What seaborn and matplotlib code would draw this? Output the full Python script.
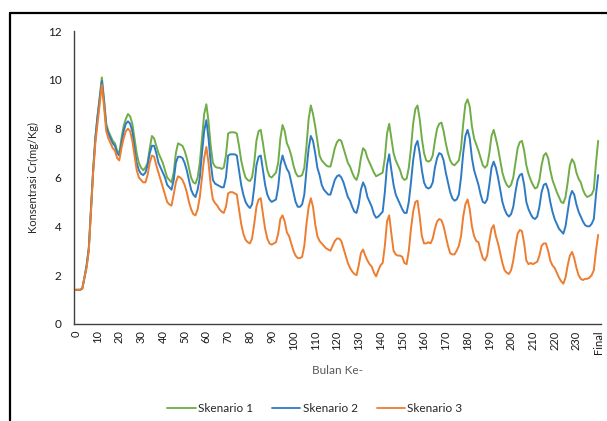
import matplotlib
matplotlib.use("Agg")
import matplotlib.pyplot as plt
from matplotlib.lines import Line2D
import seaborn as sns
import pandas as pd
import numpy as np

# Monthly Cr concentration (mg/Kg), months 0..239 followed by the final value
skenario_1 = [
    1.4, 1.4, 1.4, 1.45, 1.9, 2.4, 3.1, 4.7, 6.3, 7.6, 8.5, 9.3, 10.1,
    9.2, 8.2, 7.9, 7.7, 7.5, 7.4, 7.1, 7.0, 7.6, 8.1, 8.4, 8.6,
    8.5, 8.2, 7.6, 7.0, 6.6, 6.4, 6.3, 6.4, 6.6, 7.2, 7.7, 7.6,
    7.3, 7.0, 6.8, 6.6, 6.3, 6.0, 5.9, 5.8, 6.2, 7.0, 7.4, 7.35,
    7.3, 7.1, 6.8, 6.4, 6.0, 5.8, 5.75, 6.0, 6.6, 7.6, 8.6, 9.0,
    8.3, 7.3, 6.6, 6.45, 6.4, 6.4, 6.35, 6.4, 6.9, 7.8, 7.85, 7.85,
    7.85, 7.8, 7.3, 6.7, 6.3, 6.0, 5.9, 5.85, 6.0, 6.6, 7.5, 7.9,
    7.95, 7.4, 6.8, 6.3, 6.05, 6.0, 6.1, 6.2, 6.6, 7.6, 8.15, 7.9,
    7.4, 7.2, 6.9, 6.5, 6.2, 6.05, 6.05, 6.1, 6.4, 7.3, 8.4, 8.95,
    8.6, 8.1, 7.5, 6.9, 6.7, 6.6, 6.5, 6.45, 6.45, 6.8, 7.2, 7.45,
    7.55, 7.5, 7.2, 6.9, 6.6, 6.45, 6.2, 6.0, 5.9, 6.2, 6.8, 7.2,
    7.1, 6.8, 6.6, 6.4, 6.2, 6.05, 6.1, 6.15, 6.2, 6.8, 7.8, 8.2,
    7.6, 7.0, 6.7, 6.5, 6.3, 6.0, 5.9, 5.95, 6.4, 7.2, 8.2, 8.8,
    8.95, 8.4, 7.6, 7.0, 6.7, 6.65, 6.7, 6.9, 7.5, 8.0, 8.2, 8.25,
    7.9, 7.4, 7.0, 6.7, 6.55, 6.5, 6.6, 6.7, 7.2, 8.2, 9.0, 9.2,
    8.9, 8.1, 7.6, 7.35, 7.1, 6.8, 6.5, 6.4, 6.5, 7.0, 7.7, 7.95,
    7.6, 7.2, 6.7, 6.2, 5.9, 5.7, 5.6, 5.7, 6.0, 6.6, 7.2, 7.45,
    7.5, 7.1, 6.5, 6.15, 5.9, 5.7, 5.55, 5.6, 5.9, 6.5, 6.9, 7.0,
    6.8, 6.3, 5.9, 5.65, 5.4, 5.2, 5.0, 4.95, 5.2, 5.8, 6.5, 6.75,
    6.6, 6.2, 5.95, 5.8, 5.5, 5.3, 5.2, 5.25, 5.3, 5.5, 6.6, 7.5,
]

skenario_2 = [
    1.4, 1.4, 1.4, 1.45, 1.9, 2.4, 3.1, 4.7, 6.3, 7.6, 8.5, 9.2, 9.95,
    9.1, 8.1, 7.8, 7.6, 7.4, 7.3, 7.0, 6.9, 7.4, 7.9, 8.2, 8.3,
    8.2, 7.9, 7.2, 6.6, 6.3, 6.15, 6.1, 6.2, 6.5, 7.0, 7.3, 7.3,
    7.0, 6.6, 6.4, 6.2, 6.0, 5.7, 5.6, 5.5, 5.9, 6.6, 6.85, 6.85,
    6.8, 6.6, 6.3, 5.9, 5.5, 5.3, 5.2, 5.5, 6.0, 7.0, 7.9, 8.35,
    7.6, 6.6, 5.9, 5.75, 5.7, 5.65, 5.6, 5.6, 6.0, 6.9, 6.95, 6.95,
    6.95, 6.9, 6.3, 5.7, 5.3, 5.0, 4.85, 4.75, 4.9, 5.6, 6.5, 6.85,
    6.9, 6.3, 5.7, 5.3, 5.1, 5.0, 5.05, 5.1, 5.6, 6.5, 6.9, 6.6,
    6.35, 6.2, 5.8, 5.4, 5.0, 4.8, 4.8, 4.9, 5.3, 6.3, 7.2, 7.7,
    7.5, 7.0, 6.4, 6.1, 5.7, 5.5, 5.4, 5.3, 5.3, 5.6, 5.9, 6.05,
    6.1, 6.0, 5.8, 5.5, 5.2, 5.05, 4.8, 4.6, 4.55, 4.9, 5.5, 5.8,
    5.6, 5.2, 5.0, 4.8, 4.5, 4.35, 4.4, 4.5, 4.6, 5.4, 6.5, 6.95,
    6.3, 5.7, 5.3, 5.1, 4.9, 4.7, 4.55, 4.55, 5.0, 5.8, 6.7, 7.3,
    7.5, 7.0, 6.3, 5.8, 5.6, 5.55, 5.6, 5.8, 6.4, 6.8, 7.0, 6.95,
    6.7, 6.2, 5.8, 5.4, 5.15, 5.05, 5.1, 5.3, 6.0, 7.0, 7.7, 7.95,
    7.6, 6.8, 6.3, 6.0, 5.7, 5.3, 5.0, 4.95, 5.1, 5.7, 6.4, 6.65,
    6.4, 6.0, 5.5, 5.0, 4.7, 4.5, 4.4, 4.5, 4.8, 5.4, 5.9, 6.1,
    6.15, 5.7, 5.0, 4.7, 4.5, 4.35, 4.3, 4.4, 4.8, 5.4, 5.7, 5.75,
    5.5, 5.0, 4.6, 4.3, 4.1, 3.9, 3.8, 3.7, 4.0, 4.6, 5.2, 5.45,
    5.3, 4.9, 4.6, 4.4, 4.2, 4.05, 4.0, 4.0, 4.1, 4.3, 5.3, 6.1,
]

skenario_3 = [
    1.4, 1.4, 1.4, 1.45, 1.9, 2.3, 3.0, 4.6, 6.2, 7.4, 8.2, 9.0, 9.8,
    8.9, 7.9, 7.6, 7.4, 7.2, 7.1, 6.8, 6.7, 7.2, 7.6, 7.9, 8.0,
    7.9, 7.5, 6.9, 6.3, 6.0, 5.9, 5.8, 5.8, 6.1, 6.6, 6.9, 6.85,
    6.5, 6.2, 5.9, 5.6, 5.3, 5.0, 4.9, 4.85, 5.3, 5.8, 6.05, 6.0,
    5.9, 5.7, 5.4, 5.0, 4.7, 4.5, 4.45, 4.7, 5.2, 6.0, 6.8, 7.25,
    6.6, 5.7, 5.1, 4.95, 4.85, 4.7, 4.6, 4.55, 4.8, 5.35, 5.4, 5.4,
    5.35, 5.3, 4.7, 4.1, 3.7, 3.45, 3.35, 3.3, 3.5, 4.1, 4.8, 5.1,
    5.15, 4.5, 3.9, 3.5, 3.3, 3.25, 3.3, 3.35, 3.7, 4.3, 4.45, 4.2,
    3.75, 3.6, 3.3, 3.0, 2.8, 2.7, 2.7, 2.75, 3.2, 4.1, 4.8, 5.15,
    4.8, 4.1, 3.6, 3.4, 3.3, 3.2, 3.1, 3.05, 3.0, 3.2, 3.4, 3.5,
    3.5, 3.4, 3.1, 2.8, 2.5, 2.3, 2.15, 2.05, 2.0, 2.4, 2.9, 3.05,
    2.8, 2.6, 2.45, 2.35, 2.1, 1.95, 2.2, 2.4, 2.5, 3.2, 4.2, 4.45,
    3.7, 3.0, 2.85, 2.8, 2.8, 2.75, 2.5, 2.45, 3.0, 3.9, 4.6, 5.0,
    5.05, 4.4, 3.6, 3.3, 3.3, 3.35, 3.3, 3.5, 3.9, 4.2, 4.3, 4.25,
    4.0, 3.6, 3.2, 2.9, 2.85, 2.85, 3.0, 3.2, 3.6, 4.4, 4.9, 5.1,
    4.7, 4.0, 3.6, 3.4, 3.35, 3.0, 2.7, 2.6, 2.8, 3.4, 3.9, 4.05,
    3.6, 3.3, 2.9, 2.5, 2.2, 2.1, 2.05, 2.2, 2.6, 3.2, 3.7, 3.85,
    3.8, 3.3, 2.6, 2.45, 2.5, 2.45, 2.5, 2.55, 2.8, 3.2, 3.3, 3.3,
    3.0, 2.6, 2.4, 2.3, 2.1, 1.9, 1.75, 1.65, 1.9, 2.4, 2.8, 2.95,
    2.7, 2.3, 2.0, 1.85, 1.8, 1.85, 1.85, 1.9, 2.0, 2.2, 3.0, 3.65,
]

series_names = ["Skenario 1", "Skenario 2", "Skenario 3"]
series_colors = ["#70AD47", "#2E7BC4", "#ED7D31"]

months = list(range(len(skenario_1)))
tick_positions = list(range(0, 240, 10)) + [240]
tick_labels = [str(m) for m in range(0, 240, 10)] + ["Final"]

df = pd.concat(
    [pd.DataFrame({"Bulan": months, "Konsentrasi": vals, "Skenario": name})
     for name, vals in zip(series_names, [skenario_1, skenario_2, skenario_3])],
    ignore_index=True,
)

sns.set_theme(style="white")
plt.rcParams["font.family"] = ["Lato", "DejaVu Sans"]

W, H = 607, 421
fig = plt.figure(figsize=(W / 100, H / 100), dpi=100)
ax = fig.add_axes([74 / W, 1 - 324 / H, (601 - 74) / W, (324 - 31) / H])

sns.lineplot(data=df, x="Bulan", y="Konsentrasi", hue="Skenario",
             palette=series_colors, linewidth=1.4, ax=ax, legend=False)

ax.set_ylim(0, 12)
ax.set_yticks(range(0, 13, 2))
ax.set_xlim(-0.8, 241.3)

# one small tick per month, labels every 10 months
all_ticks = list(range(0, 241))
ax.set_xticks(all_ticks)
ax.set_xticklabels([tick_labels[tick_positions.index(t)] if t in tick_positions else ""
                    for t in all_ticks], rotation=90, fontsize=8, color="#1a1a1a")
ax.tick_params(axis="x", length=3, width=0.5, color="#404040", direction="out", pad=1.5)
ax.tick_params(axis="y", length=0, pad=9, labelsize=8.5, labelcolor="#1a1a1a")

for side in ["top", "right"]:
    ax.spines[side].set_visible(False)
for side in ["left", "bottom"]:
    ax.spines[side].set_color("#404040")
    ax.spines[side].set_linewidth(1.0)

ax.set_xlabel("Bulan Ke-", fontsize=8.5, color="#595959", labelpad=8)
ax.set_ylabel("Konsentrasi Cr(mg/Kg)", fontsize=8, color="#262626", labelpad=6)

handles = [Line2D([0], [0], color=c, lw=1.3) for c in series_colors]
fig.legend(handles, series_names, loc="center", bbox_to_anchor=(315 / W, 1 - 409 / H),
           ncol=3, frameon=False, fontsize=8.5, handlelength=2.4,
           handletextpad=0.2, columnspacing=1.6)

# outer frame lines
fig.add_artist(Line2D([10 / W, 1], [1 - 13 / H, 1 - 13 / H], color="black", lw=1.6,
                      transform=fig.transFigure))
fig.add_artist(Line2D([10 / W, 10 / W], [0, 1 - 13 / H], color="black", lw=1.6,
                      transform=fig.transFigure))

fig.savefig("out.png", dpi=100)
